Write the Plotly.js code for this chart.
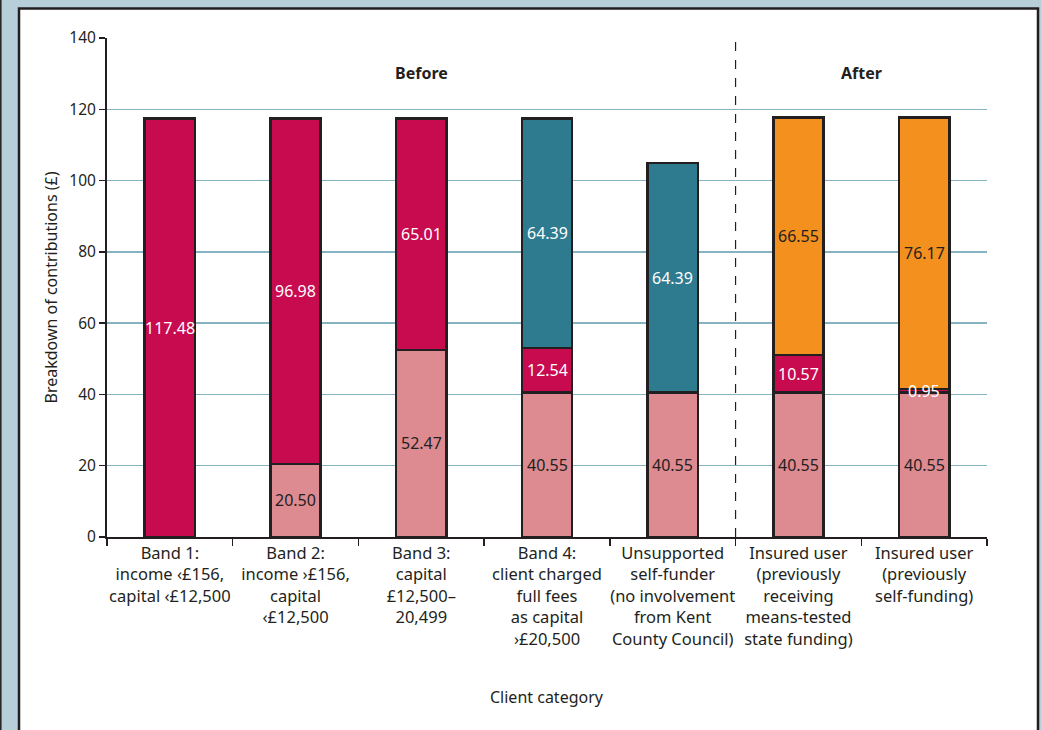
<!DOCTYPE html>
<html>
<head>
<meta charset="utf-8">
<script src="https://cdn.plot.ly/plotly-3.0.1.min.js"></script>
<style>
  html, body { margin: 0; padding: 0; background: #b7cfd9; }
  #chart { width: 1041px; height: 730px; }
</style>
</head>
<body>
<div id="chart"></div>
<script>
const categories = [
  "Band 1:<br>income ‹£156,<br>capital ‹£12,500",
  "Band 2:<br>income ›£156,<br>capital<br>‹£12,500",
  "Band 3:<br>capital<br>£12,500–<br>20,499",
  "Band 4:<br>client charged<br>full fees<br>as capital<br>›£20,500",
  "Unsupported<br>self-funder<br>(no involvement<br>from Kent<br>County Council)",
  "Insured user<br>(previously<br>receiving<br>means-tested<br>state funding)",
  "Insured user<br>(previously<br>self-funding)"
];
const pinkValues    = [null, 20.50, 52.47, 40.55, 40.55, 40.55, 40.55];
const crimsonValues = [117.48, 96.98, 65.01, 12.54, null, 10.57, 0.95];
const tealValues    = [null, null, null, 64.39, 64.39, null, null];
const orangeValues  = [null, null, null, null, null, 66.55, 76.17];
const yTicks = [0, 20, 40, 60, 80, 100, 120, 140];

const FONT = "Noto Sans, Open Sans, sans-serif";
const DARK = "#231f20";

const series = [
  { vals: pinkValues,    color: "#de8a91", textColor: DARK },
  { vals: crimsonValues, color: "#c80a4f", textColor: "#ffffff" },
  { vals: tealValues,    color: "#2e7a8f", textColor: "#ffffff" },
  { vals: orangeValues,  color: "#f4911e", textColor: DARK }
];

const data = series.map(s => ({
  type: "bar",
  x: categories,
  y: s.vals,
  width: 0.4,
  marker: { color: s.color, line: { color: DARK, width: 2.5 } },
  hoverinfo: "skip",
  showlegend: false
}));

// value labels centred in each segment (positions derived from the data)
const labelAnns = [];
const cum = categories.map(() => 0);
series.forEach(s => {
  s.vals.forEach((v, i) => {
    if (v === null) return;
    labelAnns.push({
      xref: "x", yref: "y", x: categories[i], y: cum[i] + v / 2,
      text: v.toFixed(2), showarrow: false,
      font: { family: FONT, size: 16, color: s.textColor }
    });
    cum[i] += v;
  });
});

const L = 107, R = 54, T = 38, B = 193;
const W = 1041, H = 730;
const pw = W - L - R, ph = H - T - B;
const px = v => (v - L) / pw;
const py = v => (H - B - v) / ph;

const layout = {
  width: W, height: H,
  margin: { l: L, r: R, t: T, b: B, pad: 0 },
  paper_bgcolor: "#b7cfd9",
  plot_bgcolor: "rgba(0,0,0,0)",
  barmode: "stack",
  font: { family: FONT, color: DARK, size: 15 },
  xaxis: {
    type: "category",
    range: [-0.5, 6.5],
    showline: true, linecolor: DARK, linewidth: 2,
    ticks: "outside", tickson: "boundaries", ticklen: 7, tickcolor: DARK, tickwidth: 1.5,
    tickangle: 0,
    tickfont: { family: FONT, size: 16.5, color: DARK },
    showgrid: false, zeroline: false,
    fixedrange: true
  },
  yaxis: {
    range: [0, 140],
    tickvals: yTicks,
    ticktext: yTicks.map(String),
    showline: true, linecolor: DARK, linewidth: 2,
    ticks: "outside", ticklen: 6, tickcolor: DARK, tickwidth: 1.5,
    tickfont: { family: FONT, size: 15.5, color: DARK },
    showgrid: true, gridcolor: "#86b3c2", gridwidth: 1.5,
    zeroline: false,
    title: { text: "Breakdown of contributions (£)", font: { family: FONT, size: 16, color: DARK }, standoff: 8 },
    fixedrange: true
  },
  shapes: [
    { type: "rect", xref: "paper", yref: "paper", layer: "below",
      x0: px(19), x1: px(1038), y0: py(740), y1: py(8.5),
      fillcolor: "#ffffff", line: { color: DARK, width: 2.5 } },
    { type: "line", xref: "paper", yref: "paper", layer: "below",
      x0: px(0.8), x1: px(0.8), y0: py(740), y1: py(-10),
      line: { color: DARK, width: 1.5 } },
    { type: "line", xref: "x", yref: "y",
      x0: 4.5, x1: 4.5, y0: 0, y1: 140,
      line: { color: DARK, width: 1.2, dash: "dash" } }
  ],
  annotations: [
    { xref: "x", yref: "y", x: 2, y: 130.2, text: "<b>Before</b>", showarrow: false,
      font: { family: FONT, size: 16, color: DARK } },
    { xref: "x", yref: "y", x: 5.5, y: 130.2, text: "<b>After</b>", showarrow: false,
      font: { family: FONT, size: 16, color: DARK } },
    { xref: "paper", yref: "paper", x: 0.5, y: py(697), yanchor: "middle",
      text: "Client category", showarrow: false,
      font: { family: FONT, size: 16, color: DARK } }
  ].concat(labelAnns)
};

Plotly.newPlot("chart", data, layout, { displayModeBar: false, staticPlot: true });
</script>
</body>
</html>
